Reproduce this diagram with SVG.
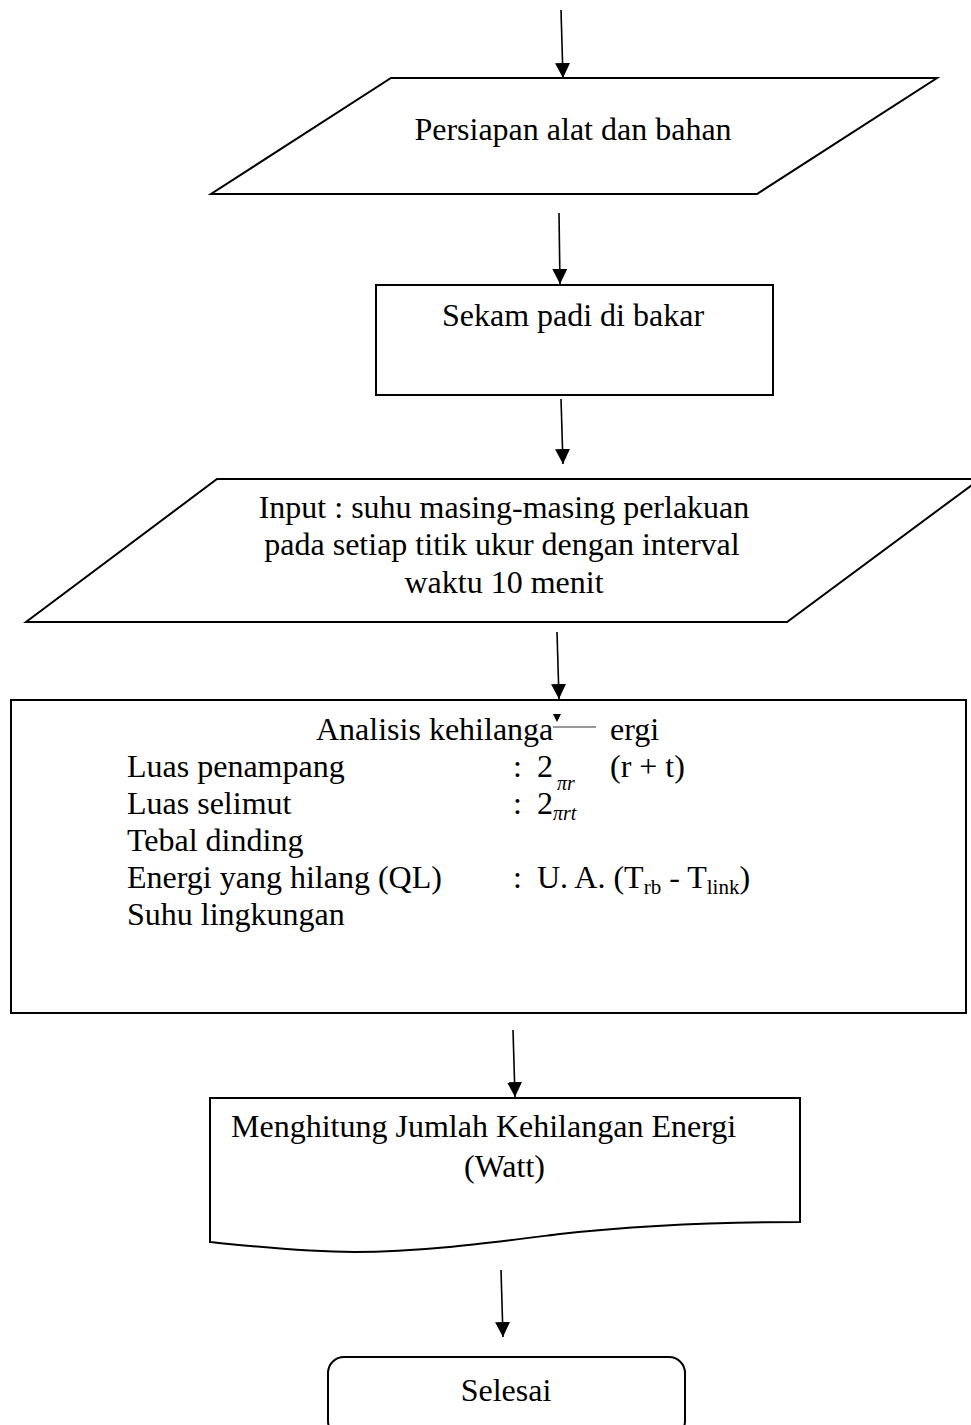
<svg xmlns="http://www.w3.org/2000/svg" width="971" height="1425" viewBox="0 0 971 1425">
<style>
.shape{fill:#fff;stroke:#000;stroke-width:2}
.conn{stroke:#000;stroke-width:1.6;fill:none;marker-end:url(#ah)}
text{font-family:"Liberation Serif","Times New Roman",serif;font-size:32px;fill:#000}
.c{text-anchor:middle}
.sm{font-size:20px;font-style:italic}
.sub{font-size:21px}
</style>
<defs>
<marker id="ah" viewBox="0 0 16 15" markerWidth="16" markerHeight="15" refX="15" refY="7.5" orient="auto" markerUnits="userSpaceOnUse">
<path d="M0,0 L15,7.5 L0,15 Z" fill="#000"/>
</marker>
</defs>
<rect width="971" height="1425" fill="#fff"/>

<g id="n1">
<polygon class="shape" points="391,78 937,78 757,194 211,194"/>
<text class="c" x="573" y="140">Persiapan alat dan bahan</text>
</g>

<g id="n2">
<rect class="shape" x="376" y="285" width="397" height="110"/>
<text class="c" x="573" y="326">Sekam padi di bakar</text>
</g>

<g id="n3">
<polygon class="shape" points="217,479 980,479 787,622 26,622"/>
<text class="c" x="504" y="518">Input : suhu masing-masing perlakuan</text>
<text class="c" x="502" y="555">pada setiap titik ukur dengan interval</text>
<text class="c" x="504" y="593">waktu 10 menit</text>
</g>

<g id="n4">
<rect class="shape" x="11" y="700" width="955" height="313"/>
<text x="316" y="740">Analisis kehilanga</text>
<text x="610" y="740">ergi</text>
<line x1="553" y1="727" x2="596" y2="727" stroke="#777" stroke-width="1.5"/>
<path d="M553,714 L561,714 L557,722 Z" fill="#000"/>
<text x="127" y="777">Luas penampang</text>
<text x="513" y="777">:</text>
<text x="537" y="777">2</text>
<text class="sm" x="557" y="790">πr</text>
<text x="610" y="777">(r + t)</text>
<text x="127" y="814">Luas selimut</text>
<text x="513" y="814">:</text>
<text x="537" y="814">2</text>
<text class="sm" x="553" y="820">πrt</text>
<text x="127" y="851">Tebal dinding</text>
<text x="127" y="888">Energi yang hilang (QL)</text>
<text x="513" y="888">:</text>
<text x="537" y="888">U. A. (T<tspan class="sub" dy="6">rb</tspan><tspan dy="-6"> - T</tspan><tspan class="sub" dy="6">link</tspan><tspan dy="-6">)</tspan></text>
<text x="127" y="925">Suhu lingkungan</text>
</g>

<g id="n5">
<path class="shape" d="M210,1098 L800,1098 L800,1222 C720,1222 640,1225 560,1234 C480,1244 420,1252 354,1252 C300,1252 250,1246 210,1242 Z"/>
<text x="231" y="1137">Menghitung Jumlah Kehilangan Energi</text>
<text x="464" y="1177">(Watt)</text>
</g>

<g id="n6">
<rect class="shape" x="328" y="1357" width="357" height="80" rx="16" ry="16"/>
<text class="c" x="506" y="1401">Selesai</text>
</g>

<g id="connectors">
<line class="conn" x1="561" y1="10" x2="563" y2="78"/>
<line class="conn" x1="559" y1="213" x2="560" y2="284"/>
<line class="conn" x1="561" y1="399" x2="563" y2="464"/>
<line class="conn" x1="557" y1="632" x2="559" y2="699"/>
<line class="conn" x1="513" y1="1030" x2="515" y2="1097"/>
<line class="conn" x1="501" y1="1270" x2="503" y2="1337"/>
</g>
</svg>
